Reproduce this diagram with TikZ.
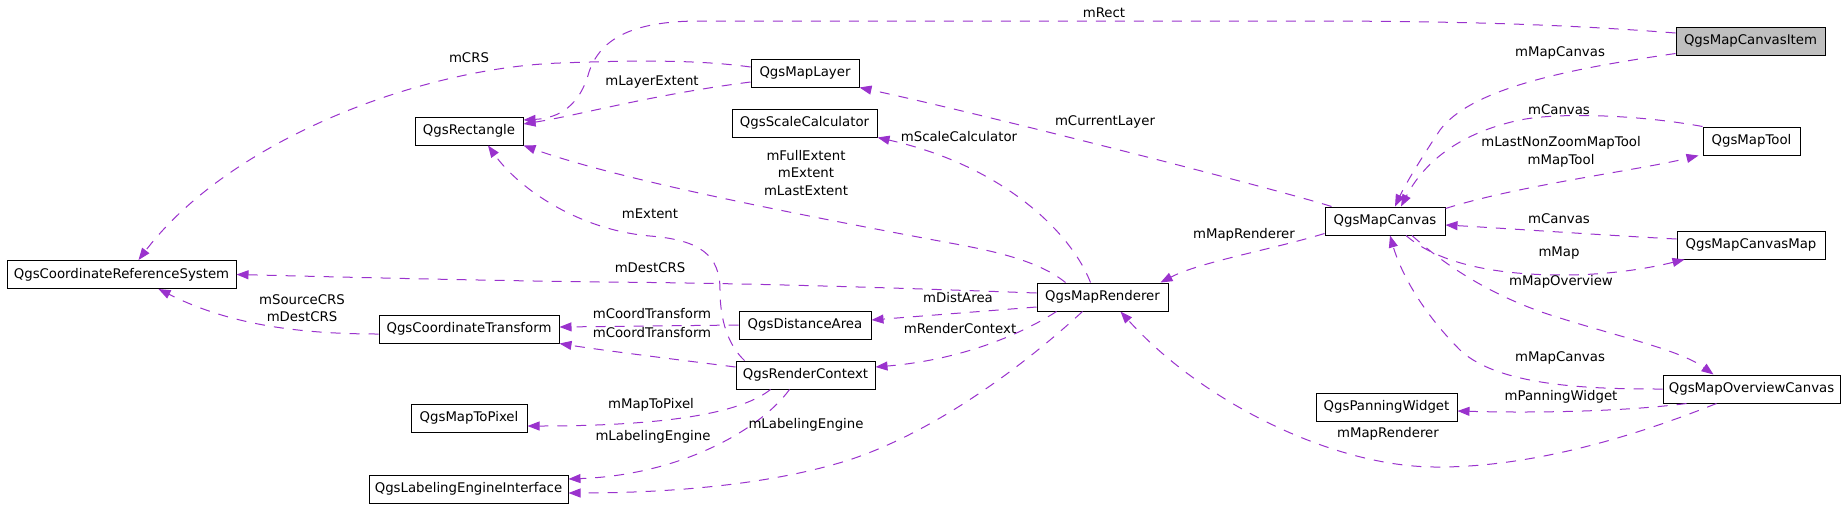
\documentclass[tikz,border=0pt]{standalone}
\usepackage{fontspec}
\setmainfont{DejaVu Sans}
\usetikzlibrary{arrows.meta,calc}
\definecolor{edgec}{HTML}{9A32CD}
\definecolor{itemfill}{HTML}{BFBFBF}
\tikzset{
  cls/.style={draw=black,line width=1pt,fill=white,inner sep=0pt,minimum height=28pt,font=\fontsize{13.3}{17.5}\selectfont},
  lbl/.style={inner sep=0pt,align=center,font=\fontsize{13.3}{17.5}\selectfont},
  edge/.style={draw=edgec,line width=1pt,dash pattern=on 10pt off 9pt,-{Triangle[length=12pt,width=9pt,fill=edgec]}}
}
\begin{document}
\begin{tikzpicture}[x=1pt,y=-1pt]
\useasboundingbox (0,0) rectangle (1845,507);
% nodes
\node[cls,fill=itemfill,minimum width=149pt] (item) at (1750.5,41) {QgsMapCanvasItem};
\node[cls,minimum width=108pt] (rect) at (469,131) {QgsRectangle};
\node[cls,minimum width=108pt] (layer) at (805,73) {QgsMapLayer};
\node[cls,minimum width=145pt] (scale) at (804.5,123) {QgsScaleCalculator};
\node[cls,minimum width=97pt] (tool) at (1751.5,141) {QgsMapTool};
\node[cls,minimum width=120pt] (canvas) at (1385,221) {QgsMapCanvas};
\node[cls,minimum width=148pt] (cmap) at (1751,245) {QgsMapCanvasMap};
\node[cls,minimum width=229pt] (crs) at (121.5,274.5) {QgsCoordinateReferenceSystem};
\node[cls,minimum width=180pt] (ct) at (469,329) {QgsCoordinateTransform};
\node[cls,minimum width=116pt] (m2p) at (469,418) {QgsMapToPixel};
\node[cls,minimum width=199pt] (lei) at (468.5,489) {QgsLabelingEngineInterface};
\node[cls,minimum width=131pt] (rend) at (1102.5,297) {QgsMapRenderer};
\node[cls,minimum width=132pt] (dist) at (805,325) {QgsDistanceArea};
\node[cls,minimum width=139pt] (rc) at (805.5,375) {QgsRenderContext};
\node[cls,minimum width=177pt] (ovw) at (1751.5,389) {QgsMapOverviewCanvas};
\node[cls,minimum width=141pt] (pan) at (1386.5,407) {QgsPanningWidget};
% edges
\draw[edge] ($(item.west)+(0,-8)$) .. controls (1560,24) and (1450,21) .. (1300,21) -- (700,21) .. controls (630,21) and (600,40) .. (589,72) .. controls (580,105) and (560,118) .. ($(rect.east)+(0,-11)$);
\draw[edge] ($(item.south west)+(0,-2)$) .. controls (1560,70) and (1470,90) .. (1440,130) .. controls (1420,160) and (1405,185) .. ($(canvas.north)+(10,0)$);
\draw[edge] ($(layer.west)+(0,9)$) .. controls (650,95) and (580,115) .. ($(rect.east)+(0,-7)$);
\draw[edge] ($(layer.west)+(0,-6)$) .. controls (700,60) and (640,60) .. (560,63) .. controls (420,68) and (230,140) .. ($(crs.north)+(17,0)$);
\draw[edge] ($(canvas.north west)+(7,0)$) .. controls (1290,193) and (1000,118) .. (layer.south east);
\draw[edge] ($(rend.north)+(-12,0)$) .. controls (1070,230) and (1000,165) .. (scale.south east);
\draw[edge] ($(rend.north)+(-37,0)$) .. controls (1040,262) and (1000,252) .. (950,243) .. controls (800,215) and (620,180) .. (rect.south east);
\draw[edge] ($(rc.north west)+(9,0)$) .. controls (728,345) and (720,320) .. (720,290) .. controls (720,255) and (700,240) .. (650,236) .. controls (580,230) and (520,190) .. ($(rect.south)+(19,0)$);
\draw[edge] ($(rend.west)+(0,-4)$) .. controls (900,288) and (750,283) .. (600,282) .. controls (450,280) and (300,276) .. (crs.east);
\draw[edge] ($(ct.west)+(0,5)$) .. controls (300,334) and (230,325) .. ($(crs.south)+(37,0)$);
\draw[edge] (dist.west) -- ($(ct.east)+(0,-2)$);
\draw[edge] ($(rc.west)+(0,-8)$) .. controls (680,360) and (600,350) .. (ct.south east);
\draw[edge] ($(rend.west)+(0,10)$) -- ($(dist.east)+(0,-5)$);
\draw[edge] ($(rend.south)+(-46,0)$) .. controls (1020,335) and (960,360) .. ($(rc.east)+(0,-8)$);
\draw[edge] ($(rc.south)+(-35,0)$) .. controls (745,410) and (680,426) .. ($(m2p.east)+(0,8)$);
\draw[edge] ($(rc.south)+(-16,0)$) .. controls (760,430) and (680,475) .. ($(lei.east)+(0,-10)$);
\draw[edge] ($(rend.south)+(-20,0)$) .. controls (1030,360) and (940,430) .. (849,460) .. controls (760,488) and (650,493) .. ($(lei.east)+(0,4)$);
\draw[edge] (tool.north west) .. controls (1640,115) and (1560,112) .. (1520,120) .. controls (1450,135) and (1420,170) .. ($(canvas.north)+(16,0)$);
\draw[edge] ($(canvas.north east)+(0,2)$) .. controls (1520,185) and (1640,170) .. ($(tool.south west)+(-4,0)$);
\draw[edge] ($(cmap.west)+(0,-6)$) .. controls (1600,235) and (1500,228) .. ($(canvas.east)+(0,4)$);
\draw[edge] ($(canvas.south)+(21,0)$) .. controls (1440,265) and (1500,275) .. (1563,275) .. controls (1610,275) and (1650,268) .. ($(cmap.south west)+(8,0)$);
\draw[edge] ($(canvas.south)+(27,0)$) .. controls (1450,270) and (1500,300) .. (1560,318) .. controls (1620,337) and (1680,350) .. ($(ovw.north)+(-38,0)$);
\draw[edge] (ovw.west) .. controls (1600,389) and (1500,388) .. (1460,350) .. controls (1420,310) and (1400,270) .. ($(canvas.south)+(5,0)$);
\draw[edge] ($(ovw.south west)+(24,0)$) .. controls (1620,412) and (1530,413) .. ($(pan.east)+(0,4)$);
\draw[edge] ($(ovw.south)+(-35,0)$) .. controls (1650,430) and (1540,468) .. (1434,467) .. controls (1330,466) and (1200,400) .. ($(rend.south)+(18,0)$);
\draw[edge] ($(canvas.south west)+(0,-2)$) .. controls (1270,250) and (1200,262) .. ($(rend.north east)+(-8,0)$);
% labels
\node[lbl] (l1) at (1104,13) {mRect};
\node[lbl] (l2) at (1560,53) {mMapCanvas};
\node[lbl] (l3) at (652,82) {mLayerExtent};
\node[lbl] (l4) at (469,58) {mCRS};
\node[lbl] (l5) at (1105,122) {mCurrentLayer};
\node[lbl] (l6) at (959,137) {mScaleCalculator};
\node[lbl] (l7) at (806,173) {mFullExtent\\mExtent\\mLastExtent};
\node[lbl] (l8) at (650,214) {mExtent};
\node[lbl] (l9) at (650,268) {mDestCRS};
\node[lbl] (l10) at (302,308) {mSourceCRS\\mDestCRS};
\node[lbl] (l11) at (652,314) {mCoordTransform};
\node[lbl] (l12) at (652,333) {mCoordTransform};
\node[lbl] (l13) at (958,298) {mDistArea};
\node[lbl] (l14) at (960,329) {mRenderContext};
\node[lbl] (l15) at (651,405) {mMapToPixel};
\node[lbl] (l16) at (653,437) {mLabelingEngine};
\node[lbl] (l17) at (806,425) {mLabelingEngine};
\node[lbl] (l18) at (1559,110) {mCanvas};
\node[lbl] (l19) at (1561,152) {mLastNonZoomMapTool\\mMapTool};
\node[lbl] (l20) at (1559,219) {mCanvas};
\node[lbl] (l21) at (1559,253) {mMap};
\node[lbl] (l22) at (1561,282) {mMapOverview};
\node[lbl] (l23) at (1560,358) {mMapCanvas};
\node[lbl] (l24) at (1561,397) {mPanningWidget};
\node[lbl] (l25) at (1388,434) {mMapRenderer};
\node[lbl] (l26) at (1244,235) {mMapRenderer};
\end{tikzpicture}
\end{document}
